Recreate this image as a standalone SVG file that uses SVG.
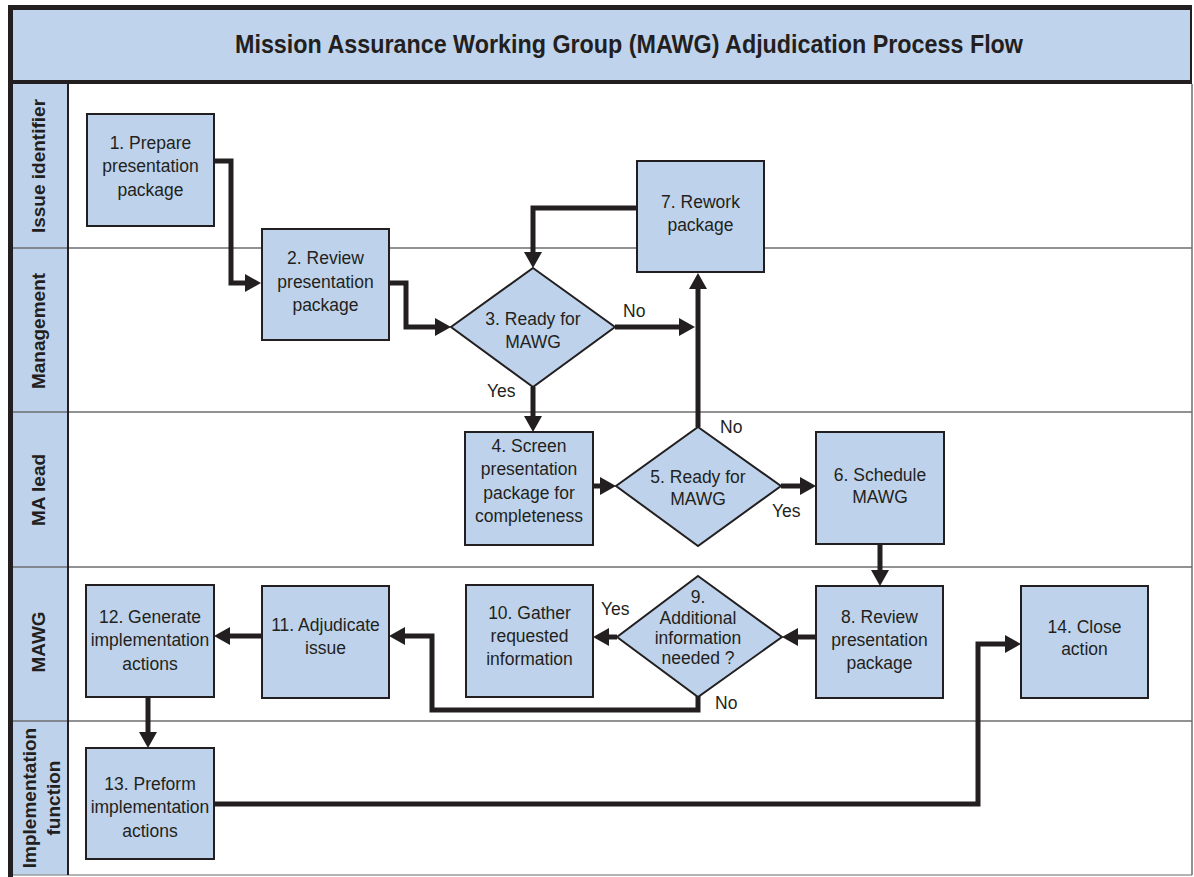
<svg xmlns="http://www.w3.org/2000/svg" width="1194" height="877" viewBox="0 0 1194 877">
  <style>
    .step { fill: #bed3eb; stroke: #231f20; stroke-width: 2; }
    .lbl { font-family: "Liberation Sans", Arial, sans-serif; font-size: 17.5px; fill: #231f20; text-anchor: middle; }
    .cond { font-family: "Liberation Sans", Arial, sans-serif; font-size: 17.5px; fill: #231f20; }
    .lane-name { font-family: "Liberation Sans", Arial, sans-serif; font-size: 19px; font-weight: bold; fill: #231f20; text-anchor: middle; }
    .title { font-family: "Liberation Sans", Arial, sans-serif; font-size: 25px; font-weight: bold; fill: #231f20; }
    .lane-line { stroke: #6d6e71; stroke-width: 1.5; }
    .flow { fill: none; stroke: #231f20; stroke-width: 5; stroke-linejoin: miter; marker-end: url(#head); }
  </style>
  <defs>
    <marker id="head" viewBox="0 0 16 18" refX="8" refY="9" markerWidth="16" markerHeight="18" markerUnits="userSpaceOnUse" orient="auto">
      <path d="M0,0 L16,9 L0,18 Z" fill="#231f20"/>
    </marker>
  </defs>

  <!-- background -->
  <rect x="0" y="0" width="1194" height="877" fill="#ffffff"/>

  <!-- title band -->
  <g id="title">
    <rect x="13" y="8" width="1178" height="74" fill="#bfd4ec"/>
    <text class="title" x="235" y="53" textLength="788" lengthAdjust="spacingAndGlyphs">Mission Assurance Working Group (MAWG) Adjudication Process Flow</text>
  </g>

  <!-- swimlanes -->
  <g id="lanes">
    <rect x="13" y="84" width="55" height="791" fill="#bed3eb"/>
    <line class="lane-line" x1="13" y1="248" x2="1192" y2="248"/>
    <line class="lane-line" x1="13" y1="412" x2="1192" y2="412"/>
    <line class="lane-line" x1="13" y1="567" x2="1192" y2="567"/>
    <line class="lane-line" x1="13" y1="721" x2="1192" y2="721"/>
    <line x1="13" y1="875" x2="1192" y2="875" stroke="#9a9b9d" stroke-width="1.5"/>
    <line x1="1192" y1="84" x2="1192" y2="875" stroke="#6d6e71" stroke-width="1.5"/>
    <line x1="68" y1="84" x2="68" y2="875" stroke="#231f20" stroke-width="2"/>
    <text class="lane-name" transform="translate(45,166) rotate(-90)">Issue identifier</text>
    <text class="lane-name" transform="translate(45,331) rotate(-90)">Management</text>
    <text class="lane-name" transform="translate(45,490) rotate(-90)">MA lead</text>
    <text class="lane-name" transform="translate(45,642) rotate(-90)">MAWG</text>
    <text class="lane-name" transform="translate(36,798) rotate(-90)">Implementation</text>
    <text class="lane-name" transform="translate(60,798) rotate(-90)">function</text>
  </g>

  <!-- outer frame -->
  <g id="frame" fill="none">
    <line x1="8" y1="7.5" x2="1192" y2="7.5" stroke="#231f20" stroke-width="5"/>
    <line x1="10.5" y1="5" x2="10.5" y2="877" stroke="#231f20" stroke-width="5"/>
    <line x1="8" y1="82" x2="1192" y2="82" stroke="#231f20" stroke-width="4"/>
    <line x1="1191" y1="8" x2="1191" y2="82" stroke="#231f20" stroke-width="2"/>
  </g>

  <!-- connectors -->
  <g id="connectors">
    <path class="flow" d="M214,161 H231 V283 H253"/>
    <path class="flow" d="M389,283 H406 V327 H443"/>
    <path class="flow" d="M615,327 H687"/>
    <path class="flow" d="M698,427 V281"/>
    <path class="flow" d="M637,208 H533 V260"/>
    <path class="flow" d="M533,387 V424"/>
    <path class="flow" d="M593,486 H608"/>
    <path class="flow" d="M781,486 H808"/>
    <path class="flow" d="M880,543 V578"/>
    <path class="flow" d="M816,637 H790"/>
    <path class="flow" d="M617,637 H601"/>
    <path class="flow" d="M698,696 V710 H432 V636 H397"/>
    <path class="flow" d="M262,636 H222"/>
    <path class="flow" d="M148,696 V740"/>
    <path class="flow" d="M214,804 H978 V644 H1013"/>
    <text class="cond" x="623" y="317">No</text>
    <text class="cond" x="487" y="397">Yes</text>
    <text class="cond" x="720" y="433">No</text>
    <text class="cond" x="772" y="517">Yes</text>
    <text class="cond" x="601" y="615">Yes</text>
    <text class="cond" x="715" y="709">No</text>
  </g>

  <!-- steps -->
  <g id="step1">
    <rect class="step" x="87" y="114" width="127" height="112"/>
    <text class="lbl" x="150.5" y="149">1. Prepare</text>
    <text class="lbl" x="150.5" y="172">presentation</text>
    <text class="lbl" x="150.5" y="196">package</text>
  </g>
  <g id="step2">
    <rect class="step" x="262" y="229" width="127" height="111"/>
    <text class="lbl" x="325.5" y="264">2. Review</text>
    <text class="lbl" x="325.5" y="288">presentation</text>
    <text class="lbl" x="325.5" y="311">package</text>
  </g>
  <g id="step3">
    <polygon class="step" points="533,268 615,327 533,387 451,327"/>
    <text class="lbl" x="533" y="325">3. Ready for</text>
    <text class="lbl" x="533" y="348">MAWG</text>
  </g>
  <g id="step4">
    <rect class="step" x="465" y="432" width="128" height="113"/>
    <text class="lbl" x="529" y="452">4. Screen</text>
    <text class="lbl" x="529" y="475">presentation</text>
    <text class="lbl" x="529" y="499">package for</text>
    <text class="lbl" x="529" y="522">completeness</text>
  </g>
  <g id="step5">
    <polygon class="step" points="698,427 781,486 698,546 616,486"/>
    <text class="lbl" x="698" y="483">5. Ready for</text>
    <text class="lbl" x="698" y="505">MAWG</text>
  </g>
  <g id="step6">
    <rect class="step" x="816" y="432" width="128" height="112"/>
    <text class="lbl" x="880" y="481">6. Schedule</text>
    <text class="lbl" x="880" y="503">MAWG</text>
  </g>
  <g id="step7">
    <rect class="step" x="637" y="161" width="127" height="111"/>
    <text class="lbl" x="700.5" y="208">7. Rework</text>
    <text class="lbl" x="700.5" y="231">package</text>
  </g>
  <g id="step8">
    <rect class="step" x="816" y="586" width="127" height="112"/>
    <text class="lbl" x="879.5" y="623">8. Review</text>
    <text class="lbl" x="879.5" y="646">presentation</text>
    <text class="lbl" x="879.5" y="669">package</text>
  </g>
  <g id="step9">
    <polygon class="step" points="698,576 782,637 698,697 617,637"/>
    <text class="lbl" x="698" y="603">9.</text>
    <text class="lbl" x="698" y="624">Additional</text>
    <text class="lbl" x="698" y="644">information</text>
    <text class="lbl" x="698" y="664">needed ?</text>
  </g>
  <g id="step10">
    <rect class="step" x="466" y="585" width="127" height="112"/>
    <text class="lbl" x="529.5" y="619">10. Gather</text>
    <text class="lbl" x="529.5" y="642">requested</text>
    <text class="lbl" x="529.5" y="665">information</text>
  </g>
  <g id="step11">
    <rect class="step" x="262" y="586" width="127" height="112"/>
    <text class="lbl" x="325.5" y="631">11. Adjudicate</text>
    <text class="lbl" x="325.5" y="654">issue</text>
  </g>
  <g id="step12">
    <rect class="step" x="86" y="585" width="128" height="112"/>
    <text class="lbl" x="150" y="623">12. Generate</text>
    <text class="lbl" x="150" y="646">implementation</text>
    <text class="lbl" x="150" y="670">actions</text>
  </g>
  <g id="step13">
    <rect class="step" x="86" y="748" width="128" height="111"/>
    <text class="lbl" x="150" y="790">13. Preform</text>
    <text class="lbl" x="150" y="813">implementation</text>
    <text class="lbl" x="150" y="837">actions</text>
  </g>
  <g id="step14">
    <rect class="step" x="1021" y="586" width="127" height="112"/>
    <text class="lbl" x="1084.5" y="633">14. Close</text>
    <text class="lbl" x="1084.5" y="655">action</text>
  </g>
</svg>
